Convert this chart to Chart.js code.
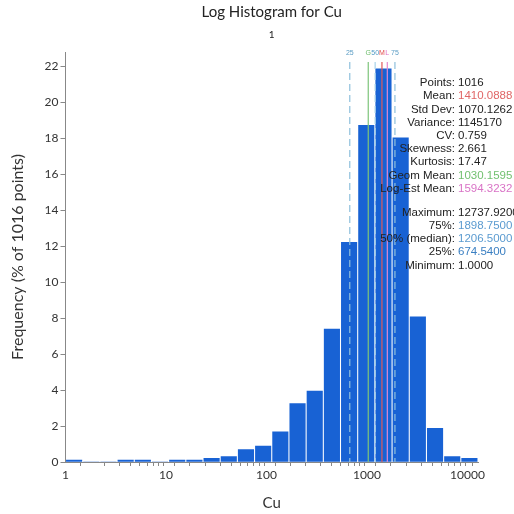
<!DOCTYPE html>
<html>
<head>
<meta charset="utf-8">
<script src="https://cdn.jsdelivr.net/npm/chart.js@4.4.1/dist/chart.umd.min.js"></script>
<style>
  html, body { margin: 0; padding: 0; background: #fff; }
  canvas { display: block; }
</style>
</head>
<body>
<canvas id="chart" width="514" height="514"></canvas>
<script>
/* ---------- data ---------- */
const chartTitle = 'Log Histogram for Cu';
const chartSubtitle = '1';
const xTitle = 'Cu';
const yTitle = 'Frequency (% of 1016 points)';

// bin centres (Cu, log-spaced bins from 1 to 12737.92)
const binCenters = [1.218, 1.806, 2.677, 3.969, 5.885, 8.727, 12.94, 19.18, 28.44, 42.17, 62.52, 92.69,
  137.4, 203.8, 302.2, 448.0, 664.3, 984.7, 1460, 2165, 3210, 4760, 7057, 10462];
// frequency in % of points
const binFreq = [0.1, 0, 0, 0.1, 0.1, 0, 0.1, 0.1, 0.2, 0.3, 0.69, 0.89,
  1.67, 3.25, 3.94, 7.38, 12.2, 18.7, 21.85, 18.01, 8.07, 1.87, 0.3, 0.2];

const xMin = 1;
const xMax = 12737.92;
const yMax = 22.78;
const xTickLabels = [1, 10, 100, 1000, 10000];

// marker lines at top of plot
const markerValues = [674.54, 1030.1595, 1206.5, 1410.0888, 1594.3232, 1898.75];
const markerLabels = ['25', 'G', '50', 'M', 'L', '75'];
const markerColors = ['#8fc0dc', '#7cc47a', '#a9d3ea', '#e05a5a', '#e48ad0', '#8fc0dc'];
const markerLabelColors = ['#5a9cc4', '#6cbd6a', '#4f9ac6', '#e04848', '#dd6fc4', '#5a9cc4'];
const markerDashed = [true, false, true, false, false, true];

// statistics panel
const statLabels = ['Points:', 'Mean:', 'Std Dev:', 'Variance:', 'CV:', 'Skewness:', 'Kurtosis:',
  'Geom Mean:', 'Log-Est Mean:', 'Maximum:', '75%:', '50% (median):', '25%:', 'Minimum:'];
const statValues = ['1016', '1410.0888', '1070.1262', '1145170', '0.759', '2.661', '17.47',
  '1030.1595', '1594.3232', '12737.9200', '1898.7500', '1206.5000', '674.5400', '1.0000'];
const statColors = ['#222', '#e06666', '#222', '#222', '#222', '#222', '#222',
  '#72c070', '#d973c6', '#222', '#5b9bd0', '#5b9bd0', '#3a7fc2', '#222'];

/* ---------- overlay: title, markers, stats ---------- */
const overlay = {
  id: 'overlay',
  afterDatasetsDraw(chart) {
    const { ctx, chartArea, scales } = chart;
    ctx.save();
    markerValues.forEach((v, i) => {
      const x = scales.x.getPixelForValue(v);
      ctx.beginPath();
      ctx.strokeStyle = markerColors[i];
      ctx.lineWidth = 1.2;
      ctx.setLineDash(markerDashed[i] ? [7, 4] : []);
      ctx.moveTo(x, chartArea.top + 10);
      ctx.lineTo(x, chartArea.bottom);
      ctx.stroke();
    });
    ctx.setLineDash([]);
    ctx.font = '7px "Liberation Sans"';
    ctx.textAlign = 'center';
    ctx.textBaseline = 'middle';
    markerValues.forEach((v, i) => {
      const x = scales.x.getPixelForValue(v);
      ctx.fillStyle = markerLabelColors[i];
      ctx.fillText(markerLabels[i], x, chartArea.top + 1);
    });
    ctx.restore();
  },
  afterDraw(chart) {
    const { ctx, chartArea } = chart;
    const cx = (chartArea.left + chartArea.right) / 2;
    ctx.save();
    ctx.textAlign = 'center';
    ctx.textBaseline = 'middle';
    ctx.fillStyle = '#222';
    ctx.font = '15px Lato';
    ctx.fillText(chartTitle, cx, 12);
    ctx.font = '10px Lato';
    ctx.fillText(chartSubtitle, cx, 35);

    // stats block
    ctx.font = '11.5px "Liberation Sans"';
    const colX = 455;
    let y = 83;
    statLabels.forEach((lab, i) => {
      if (i === 9) y += 10.8;
      ctx.textAlign = 'right';
      ctx.fillStyle = '#222';
      ctx.fillText(lab, colX, y);
      ctx.textAlign = 'left';
      ctx.fillStyle = statColors[i];
      ctx.fillText(statValues[i], colX + 3, y);
      y += 13.2;
    });
    ctx.restore();
  }
};

/* ---------- chart ---------- */
new Chart(document.getElementById('chart'), {
  type: 'bar',
  data: {
    datasets: [{
      data: binCenters.map((c, i) => ({ x: c, y: binFreq[i] })),
      backgroundColor: '#1862d4',
      borderWidth: 0,
      barThickness: 'flex',
      categoryPercentage: 1,
      barPercentage: 0.9
    }]
  },
  options: {
    responsive: false,
    animation: false,
    layout: { padding: { top: 52, right: 36, left: 0, bottom: 0 } },
    plugins: { legend: { display: false }, tooltip: { enabled: false } },
    scales: {
      x: {
        type: 'logarithmic',
        min: xMin,
        max: xMax,
        offset: false,
        border: { color: '#888' },
        grid: { drawOnChartArea: false, tickLength: 4, color: '#888' },
        ticks: {
          autoSkip: false,
          maxRotation: 0,
          padding: 2,
          color: '#333',
          font: { family: 'Lato', size: 12 },
          callback: v => xTickLabels.includes(v) ? String(v) : ''
        },
        title: { display: true, text: xTitle, color: '#333', font: { family: 'Lato', size: 15 }, padding: { top: 4, bottom: 2 } },
        afterFit: s => { s.height = 52; }
      },
      y: {
        min: 0,
        max: yMax,
        border: { color: '#888' },
        grid: { drawOnChartArea: false, tickLength: 5, color: '#888' },
        ticks: { stepSize: 2, padding: 2, color: '#333', font: { family: 'Lato', size: 12 } },
        afterBuildTicks: s => { s.ticks = s.ticks.filter(t => t.value % 2 === 0); },
        title: { display: true, text: yTitle, color: '#333', font: { family: 'Lato', size: 16 }, padding: { top: 8, bottom: 0 } },
        afterFit: s => { s.width = 65.5; }
      }
    }
  },
  plugins: [overlay]
});
</script>
</body>
</html>
